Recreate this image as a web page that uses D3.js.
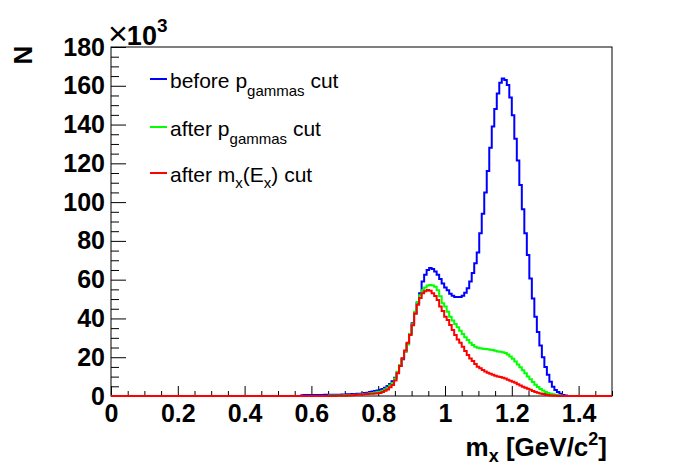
<!DOCTYPE html>
<html>
<head>
<meta charset="utf-8">
<script src="https://cdn.jsdelivr.net/npm/d3@7"></script>
<style>
  body { margin: 0; background: #fff; }
  text { font-family: "Liberation Sans", Arial, Helvetica, sans-serif; }
</style>
</head>
<body>
<div id="chart"></div>
<script>
// histogram: 200 bins between 0 and 1.5, counts in units of 10^3
const xMin = 0, xMax = 1.5, nBins = 200;
const startBin = 76; // first bin listed below (m = 0.57)

const beforeP = [0.4,0.5,0.5,0.5,0.5,0.5,0.5,0.5,0.5,0.6,0.6,0.6,0.6,0.7,0.7,0.7,0.8,0.8,0.9,0.9,
  1.0,1.0,1.1,1.2,1.3,1.5,1.7,2.0,2.3,2.6,2.9,3.2,3.6,4.3,5.2,6.2,7.6,9.4,12,15.5,
  19,23,27,32,37.5,42.6,48,53,59,62.5,65,66,65.5,64.2,62.5,60.3,58,56,54.5,52.7,
  51.7,51,51,51,51.7,53.3,55.6,59,63.5,68.5,74,84,94,105,116,128,139,148,156,161.6,
  163.8,163,160.4,153.9,144.8,132.7,121.4,108.8,96.3,83.9,72.7,60.6,50.3,40.9,33,26,20,15,10.9,7.4,
  4.8,3.1,2.0,1.2,0.5,0.2];

const afterP = [0,0,0,0,0,0,0,0,0,0,0,0.2,0.3,0.3,0.3,0.3,0.3,0.4,0.4,0.4,
  0.5,0.6,0.7,0.8,0.9,1.0,1.2,1.4,1.6,1.8,2.0,2.2,2.7,3.5,4.3,5.4,6.7,9,12.5,16,
  19.5,23,26.5,32,37,43.5,48.5,52,54.5,56,57,57.3,57,56.4,54.5,51.5,47.8,46.1,43.5,40.9,
  38.9,37.1,35.4,33.7,32,30.3,28.9,27.5,26.3,25.4,24.9,24.6,24.4,24.2,24.1,23.9,23.7,23.3,22.9,22.8,
  22.6,22.2,21.4,20.4,19.2,17.8,16.3,14.8,13.3,11.7,10.1,8.6,7.2,5.8,4.6,3.6,2.8,2.1,1.6,1.2,
  0.9,0.6,0.4,0.2,0,0];

const afterMx = [0,0,0,0,0,0,0,0,0,0,0,0,0,0,0.1,0.1,0.1,0.1,0.2,0.2,
  0.4,0.5,0.6,0.7,0.8,0.9,1.0,1.1,1.2,1.3,1.4,1.5,2.0,2.7,3.4,4.5,5.7,8,11.7,15.5,
  19.5,23.5,27.5,31.5,36.5,42.5,47,50.5,53,54,54.7,54.3,53,51.6,49.5,46.1,43.8,40.9,39.2,36.6,
  34,31.4,29.2,27.5,25.4,23.2,21.2,19.4,18.1,16.5,15.1,14.3,13.4,12.7,12,11.5,11,10.4,10.1,9.8,
  9.4,9.0,8.4,7.9,7.4,6.8,6.1,5.4,4.8,4.3,3.8,3.2,2.6,2.1,1.7,1.3,1.0,0.7,0.5,0.3,
  0.2,0.1,0,0,0,0];

const seriesNames = ["before", "afterP", "afterMx"];
const seriesColors = ["#0000ff", "#00ff00", "#ff0000"];
const yMajorTicks = [0,20,40,60,80,100,120,140,160,180];
const xMajorTicks = [0,0.2,0.4,0.6,0.8,1,1.2,1.4];

const width = 696, height = 472;
const padL = 111, padR = 612, padT = 47, padB = 396;

const svg = d3.select('#chart').append('svg')
  .attr('width', width).attr('height', height);

const xScale = d3.scaleLinear().domain([xMin, xMax]).range([padL, padR]);
const yScale = d3.scaleLinear().domain([0, 180]).range([padB, padT]);
const binW = (xMax - xMin) / nBins;

function fullBins(vals) {
  const out = [];
  for (let i = 0; i < nBins; i++) {
    const j = i - startBin;
    out.push(j >= 0 && j < vals.length ? vals[j] : 0);
  }
  return out;
}

function stepPoints(bins) {
  const pts = [];
  bins.forEach((v, i) => {
    pts.push([xMin + i * binW, v]);
    pts.push([xMin + (i + 1) * binW, v]);
  });
  return pts;
}

const line = d3.line()
  .x(d => xScale(d[0]))
  .y(d => yScale(d[1]));

// frame
svg.append('rect')
  .attr('x', padL).attr('y', padT)
  .attr('width', padR - padL).attr('height', padB - padT)
  .attr('fill', 'none').attr('stroke', '#000').attr('stroke-width', 1);

// axes
const xMinor = d3.range(0, 1.5001, 0.05).filter(v => Math.abs(v / 0.2 - Math.round(v / 0.2)) > 1e-6);
const yMinor = d3.range(0, 181, 5).filter(v => v % 20 !== 0);

svg.append('g')
  .attr('transform', `translate(0,${padB})`)
  .call(d3.axisBottom(xScale).tickValues(xMinor).tickSize(-5).tickFormat(''))
  .call(g => g.select('.domain').remove());

svg.append('g')
  .attr('transform', `translate(0,${padB})`)
  .call(d3.axisBottom(xScale).tickValues(xMajorTicks).tickSize(-10).tickPadding(8)
    .tickFormat(d => d3.format('')(d)))
  .call(g => g.select('.domain').remove())
  .call(g => g.selectAll('text')
    .attr('font-size', 25).attr('font-weight', 'bold').attr('fill', '#000')
    .attr('font-family', '"Liberation Sans", Arial, sans-serif'));

svg.append('g')
  .attr('transform', `translate(${padL},0)`)
  .call(d3.axisLeft(yScale).tickValues(yMinor).tickSize(-8).tickFormat(''))
  .call(g => g.select('.domain').remove());

svg.append('g')
  .attr('transform', `translate(${padL},0)`)
  .call(d3.axisLeft(yScale).tickValues(yMajorTicks).tickSize(-15).tickPadding(6))
  .call(g => g.select('.domain').remove())
  .call(g => g.selectAll('text')
    .attr('font-size', 25).attr('font-weight', 'bold').attr('fill', '#000')
    .attr('font-family', '"Liberation Sans", Arial, sans-serif'));

svg.selectAll('.tick line').attr('stroke', '#000').attr('stroke-width', 1);

// histograms
const allSeries = [beforeP, afterP, afterMx];
svg.append('g')
  .selectAll('path')
  .data(allSeries)
  .enter()
  .append('path')
  .attr('d', d => line(stepPoints(fullBins(d))))
  .attr('fill', 'none')
  .attr('stroke', (d, i) => seriesColors[i])
  .attr('stroke-width', 2);

// exponent label
const expo = svg.append('text')
  .attr('x', 108).attr('y', 45)
  .attr('font-size', 27).attr('font-weight', 'bold');
expo.append('tspan').attr('font-weight', 'normal').attr('font-size', 34).text('×');
expo.append('tspan').attr('dx', -1).text('10');
expo.append('tspan').attr('dy', -13).attr('font-size', 19).text('3');

// axis titles
svg.append('text')
  .attr('transform', 'translate(32,55) rotate(-90)')
  .attr('text-anchor', 'middle')
  .attr('font-size', 26).attr('font-weight', 'bold')
  .text('N');

const xt = svg.append('text')
  .attr('x', 607).attr('y', 456)
  .attr('text-anchor', 'end')
  .attr('font-size', 26).attr('font-weight', 'bold');
xt.append('tspan').text('m');
xt.append('tspan').attr('dy', 6).attr('font-size', 18).text('x');
xt.append('tspan').attr('dy', -6).text(' [GeV/c');
xt.append('tspan').attr('dy', -11).attr('font-size', 18).text('2');
xt.append('tspan').attr('dy', 11).text(']');

// legend
const legendY = [79, 127, 173];
const leg = svg.append('g');
seriesNames.forEach((s, i) => {
  leg.append('line')
    .attr('x1', 150).attr('x2', 167)
    .attr('y1', legendY[i]).attr('y2', legendY[i])
    .attr('stroke', seriesColors[i]).attr('stroke-width', 2);
});

function legendText(y, parts) {
  const t = leg.append('text').attr('x', 170).attr('y', y).attr('font-size', 21);
  parts.forEach(p => {
    t.append('tspan')
      .attr('dy', p[1])
      .attr('font-size', p[2] || 21)
      .text(p[0]);
  });
}
legendText(legendY[0] + 9, [['before p', 0], ['gammas', 8, 15], [' cut', -8]]);
legendText(legendY[1] + 9, [['after p', 0], ['gammas', 8, 15], [' cut', -8]]);
legendText(legendY[2] + 9, [['after m', 0], ['x', 6, 15], ['(E', -6], ['x', 6, 15], [') cut', -6]]);
</script>
</body>
</html>
